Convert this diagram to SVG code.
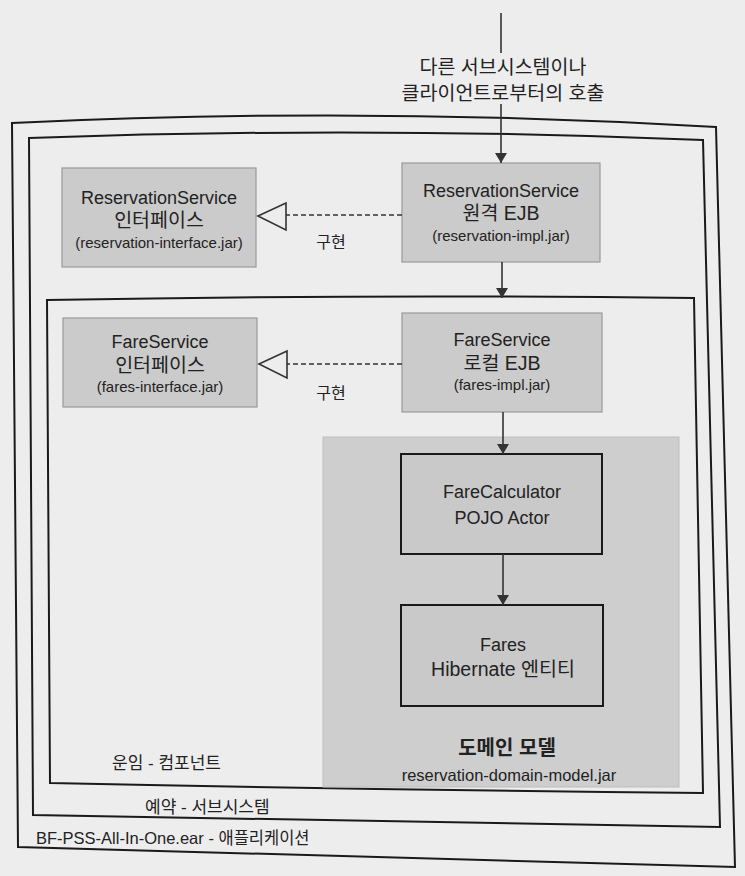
<svg xmlns="http://www.w3.org/2000/svg" width="745" height="876" viewBox="0 0 745 876">
<defs>
<marker id="arr" markerWidth="10" markerHeight="14" refX="10" refY="7" orient="auto" markerUnits="userSpaceOnUse">
<path d="M0,1 L10,7 L0,13 Z" fill="#333"/>
</marker>
<style>
.bg{fill:#ededed}
.frame{fill:none;stroke:#1a1a1a;stroke-width:2}
.gbox{fill:#cbcbcb;stroke:#9a9a9a;stroke-width:1.2}
.bbox{fill:#c9c9c9;stroke:#1a1a1a;stroke-width:2}
.dom{fill:#cecece;stroke:#bdbdbd;stroke-width:1}
.t{font-family:"Liberation Sans","Noto Sans CJK KR",sans-serif;fill:#222;text-anchor:middle}
.tl{font-family:"Liberation Sans","Noto Sans CJK KR",sans-serif;fill:#222}
.h{font-size:18px}
.k{font-size:19.5px}
.s{font-size:15px}
.f{font-size:17px}
.line{stroke:#333;stroke-width:1.6;fill:none}
.dash{stroke:#333;stroke-width:1.6;fill:none;stroke-dasharray:5 3}
.tri{fill:#ededed;stroke:#333;stroke-width:1.6}
</style>
</defs>
<rect class="bg" x="0" y="0" width="745" height="876"/>

<g id="app-container">
<path class="frame" d="M12,123 Q365,106 716,127 L735,867 Q380,857 18,847 Z"/>
<text class="tl" x="36" y="844" style="font-size:16.5px">BF-PSS-All-In-One.ear - 애플리케이션</text>
</g>
<g id="subsystem-container">
<path class="frame" d="M29,138 Q365,126 703,140 L720,827 Q380,820 33,815 Z"/>
<text class="tl f" x="145" y="813">예약 - 서브시스템</text>
</g>
<g id="component-container">
<path class="frame" d="M47,300 Q370,294 694,298 L703,793 Q380,790 50,783 Z"/>
<text class="tl f" x="112" y="769">운임 - 컴포넌트</text>
</g>

<g id="reservation-interface">
<rect class="gbox" x="62" y="168" width="194" height="99"/>
<text class="t h" x="159" y="204">ReservationService</text>
<text class="t k" x="159" y="227">인터페이스</text>
<text class="t s" x="159" y="248">(reservation-interface.jar)</text>
</g>
<g id="reservation-ejb">
<rect class="gbox" x="402" y="163" width="198" height="99"/>
<text class="t h" x="501" y="197">ReservationService</text>
<text class="t k" x="501" y="220">원격 EJB</text>
<text class="t s" x="501" y="241">(reservation-impl.jar)</text>
</g>
<g id="fare-interface">
<rect class="gbox" x="63" y="318" width="194" height="89"/>
<text class="t h" x="160" y="348">FareService</text>
<text class="t k" x="160" y="372">인터페이스</text>
<text class="t s" x="160" y="392">(fares-interface.jar)</text>
</g>
<g id="fare-ejb">
<rect class="gbox" x="402" y="313" width="200" height="99"/>
<text class="t h" x="502" y="346">FareService</text>
<text class="t k" x="502" y="370">로컬 EJB</text>
<text class="t s" x="502" y="390">(fares-impl.jar)</text>
</g>
<g id="domain-model">
<rect class="dom" x="323" y="437" width="356" height="350"/>
<text class="t" x="507" y="755" style="font-size:20px;font-weight:bold">도메인 모델</text>
<text class="t" x="509" y="781" style="font-size:16.5px">reservation-domain-model.jar</text>
</g>
<g id="fare-calculator">
<rect class="bbox" x="401" y="454" width="201" height="100"/>
<text class="t h" x="502" y="498">FareCalculator</text>
<text class="t h" x="502" y="524">POJO Actor</text>
</g>
<g id="fares">
<rect class="bbox" x="401" y="605" width="202" height="101"/>
<text class="t h" x="503" y="651">Fares</text>
<text class="t k" x="503" y="676">Hibernate 엔티티</text>
</g>

<g id="connectors">
<line class="line" x1="501" y1="13" x2="501" y2="53"/>
<line class="line" x1="501" y1="104" x2="501" y2="163" marker-end="url(#arr)"/>
<text class="t k" x="503" y="74">다른 서브시스템이나</text>
<text class="t k" x="503" y="100">클라이언트로부터의 호출</text>
<line class="dash" x1="402" y1="215" x2="286" y2="215"/>
<path class="tri" d="M258,216 L286,203 L286,230 Z"/>
<text class="t" x="331" y="248" style="font-size:16px">구현</text>
<line class="line" x1="502" y1="262" x2="502" y2="298" marker-end="url(#arr)"/>
<line class="dash" x1="402" y1="364" x2="287" y2="364"/>
<path class="tri" d="M259,364 L287,351 L287,378 Z"/>
<text class="t" x="331" y="399" style="font-size:16px">구현</text>
<line class="line" x1="503" y1="412" x2="503" y2="454" marker-end="url(#arr)"/>
<line class="line" x1="503" y1="554" x2="503" y2="605" marker-end="url(#arr)"/>
</g>
</svg>
